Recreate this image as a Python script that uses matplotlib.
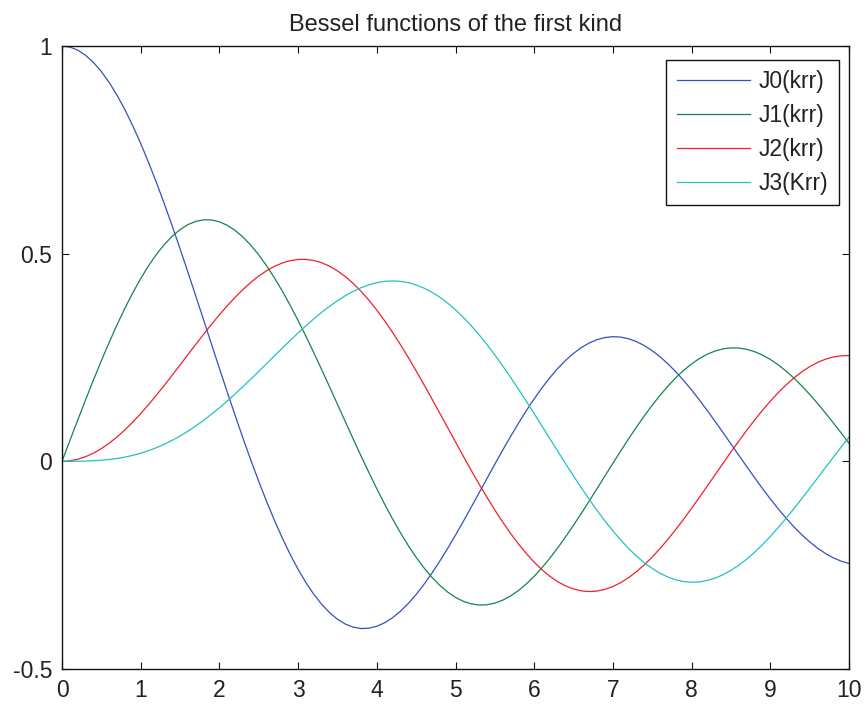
import numpy as np
import matplotlib
matplotlib.use("Agg")
import matplotlib.pyplot as plt

plt.rcParams['font.family'] = ['Liberation Sans', 'DejaVu Sans']

# krr from 0 to 10 in steps of 0.1
x = np.linspace(0, 10, 101)

j0 = [1.0000, 0.9975, 0.9900, 0.9776, 0.9604, 0.9385, 0.9120, 0.8812, 0.8463, 0.8075,
      0.7652, 0.7196, 0.6711, 0.6201, 0.5669, 0.5118, 0.4554, 0.3980, 0.3400, 0.2818,
      0.2239, 0.1666, 0.1104, 0.0555, 0.0025, -0.0484, -0.0968, -0.1424, -0.1850, -0.2243,
      -0.2601, -0.2921, -0.3202, -0.3443, -0.3643, -0.3801, -0.3918, -0.3992, -0.4026, -0.4018,
      -0.3971, -0.3887, -0.3766, -0.3610, -0.3423, -0.3205, -0.2961, -0.2693, -0.2404, -0.2097,
      -0.1776, -0.1443, -0.1103, -0.0758, -0.0412, -0.0068, 0.0270, 0.0599, 0.0917, 0.1220,
      0.1506, 0.1773, 0.2017, 0.2238, 0.2433, 0.2601, 0.2740, 0.2851, 0.2931, 0.2981,
      0.3001, 0.2991, 0.2951, 0.2882, 0.2786, 0.2663, 0.2516, 0.2346, 0.2154, 0.1944,
      0.1717, 0.1475, 0.1222, 0.0960, 0.0692, 0.0419, 0.0146, -0.0125, -0.0392, -0.0653,
      -0.0903, -0.1142, -0.1367, -0.1577, -0.1768, -0.1939, -0.2090, -0.2218, -0.2323, -0.2403,
      -0.2459]
j1 = [0.0000, 0.0499, 0.0995, 0.1483, 0.1960, 0.2423, 0.2867, 0.3290, 0.3688, 0.4059,
      0.4401, 0.4709, 0.4983, 0.5220, 0.5419, 0.5579, 0.5699, 0.5778, 0.5815, 0.5812,
      0.5767, 0.5683, 0.5560, 0.5399, 0.5202, 0.4971, 0.4708, 0.4416, 0.4097, 0.3754,
      0.3391, 0.3009, 0.2613, 0.2207, 0.1792, 0.1374, 0.0955, 0.0538, 0.0128, -0.0272,
      -0.0660, -0.1033, -0.1386, -0.1719, -0.2028, -0.2311, -0.2566, -0.2791, -0.2985, -0.3147,
      -0.3276, -0.3371, -0.3432, -0.3460, -0.3453, -0.3414, -0.3343, -0.3241, -0.3110, -0.2951,
      -0.2767, -0.2559, -0.2329, -0.2081, -0.1816, -0.1538, -0.1250, -0.0953, -0.0652, -0.0349,
      -0.0047, 0.0252, 0.0543, 0.0826, 0.1096, 0.1352, 0.1592, 0.1813, 0.2014, 0.2192,
      0.2346, 0.2476, 0.2580, 0.2657, 0.2708, 0.2731, 0.2728, 0.2697, 0.2641, 0.2559,
      0.2453, 0.2324, 0.2174, 0.2004, 0.1816, 0.1613, 0.1395, 0.1166, 0.0928, 0.0684,
      0.0435]
j2 = [0.0000, 0.0012, 0.0050, 0.0112, 0.0197, 0.0306, 0.0437, 0.0588, 0.0758, 0.0946,
      0.1149, 0.1366, 0.1594, 0.1830, 0.2072, 0.2321, 0.2570, 0.2818, 0.3061, 0.3300,
      0.3528, 0.3746, 0.3951, 0.4140, 0.4310, 0.4461, 0.4590, 0.4695, 0.4776, 0.4832,
      0.4861, 0.4862, 0.4835, 0.4781, 0.4697, 0.4586, 0.4449, 0.4283, 0.4093, 0.3879,
      0.3641, 0.3383, 0.3106, 0.2811, 0.2501, 0.2178, 0.1845, 0.1505, 0.1160, 0.0813,
      0.0466, 0.0121, -0.0217, -0.0548, -0.0867, -0.1173, -0.1464, -0.1736, -0.1989, -0.2220,
      -0.2429, -0.2612, -0.2768, -0.2899, -0.3001, -0.3074, -0.3119, -0.3136, -0.3123, -0.3082,
      -0.3014, -0.2920, -0.2800, -0.2656, -0.2490, -0.2303, -0.2097, -0.1875, -0.1638, -0.1389,
      -0.1130, -0.0864, -0.0593, -0.0320, -0.0047, 0.0224, 0.0488, 0.0745, 0.0992, 0.1228,
      0.1448, 0.1653, 0.1840, 0.2008, 0.2154, 0.2279, 0.2381, 0.2458, 0.2512, 0.2541,
      0.2546]
j3 = [0.0000, 0.0000, 0.0002, 0.0006, 0.0013, 0.0026, 0.0044, 0.0069, 0.0102, 0.0144,
      0.0196, 0.0257, 0.0329, 0.0411, 0.0505, 0.0610, 0.0725, 0.0852, 0.0987, 0.1135,
      0.1289, 0.1452, 0.1624, 0.1801, 0.1981, 0.2167, 0.2354, 0.2540, 0.2726, 0.2911,
      0.3090, 0.3265, 0.3431, 0.3588, 0.3734, 0.3867, 0.3988, 0.4092, 0.4180, 0.4251,
      0.4301, 0.4334, 0.4344, 0.4334, 0.4302, 0.4247, 0.4170, 0.4072, 0.3952, 0.3811,
      0.3649, 0.3466, 0.3265, 0.3046, 0.2811, 0.2561, 0.2297, 0.2023, 0.1738, 0.1446,
      0.1148, 0.0846, 0.0543, 0.0240, -0.0060, -0.0354, -0.0640, -0.0919, -0.1185, -0.1438,
      -0.1675, -0.1897, -0.2099, -0.2281, -0.2442, -0.2580, -0.2696, -0.2787, -0.2854, -0.2895,
      -0.2911, -0.2903, -0.2869, -0.2811, -0.2730, -0.2626, -0.2501, -0.2355, -0.2190, -0.2007,
      -0.1809, -0.1597, -0.1374, -0.1140, -0.0899, -0.0653, -0.0403, -0.0152, 0.0097, 0.0343,
      0.0583]

labels = ['J0(krr)', 'J1(krr)', 'J2(krr)', 'J3(Krr)']
colors = ['#3450c0', '#12864a', '#f02030', '#22c2c2']

fig = plt.figure(figsize=(8.65, 7.05), dpi=100)
ax = fig.add_axes([62/865, 1 - 669/705, (849 - 62)/865, (669 - 46)/705])

for y, lab, c in zip([j0, j1, j2, j3], labels, colors):
    ax.plot(x, y, color=c, lw=0.9, label=lab)

ax.set_xlim(0, 10)
ax.set_ylim(-0.5, 1)
ax.set_xticks(range(0, 11))
ax.set_yticks([-0.5, 0, 0.5, 1])
ax.set_yticklabels(['-0.5', '0', '0.5', '1'])
ax.tick_params(direction='in', length=5, width=0.8, top=True, right=True,
               labelsize=16.5, colors='#111111', labelcolor='#222222')
ax.tick_params(axis='x', pad=7)
ax.tick_params(axis='y', pad=7)
for s in ax.spines.values():
    s.set_linewidth(1.0)
    s.set_color('#111111')

ax.set_title('Bessel functions of the first kind', fontsize=17,
             color='#222222', pad=11)

leg = ax.legend(loc='upper right', bbox_to_anchor=(839/865, 1 - 60/705),
                bbox_transform=fig.transFigure, borderaxespad=0,
                fontsize=16.5, frameon=True, fancybox=False, framealpha=1,
                edgecolor='#111111', handlelength=3.2, labelspacing=0.47,
                handletextpad=0.4, borderpad=0.45)
leg.get_frame().set_linewidth(1.0)
for t in leg.get_texts():
    t.set_color('#222222')

fig.savefig('out.png', dpi=100)
